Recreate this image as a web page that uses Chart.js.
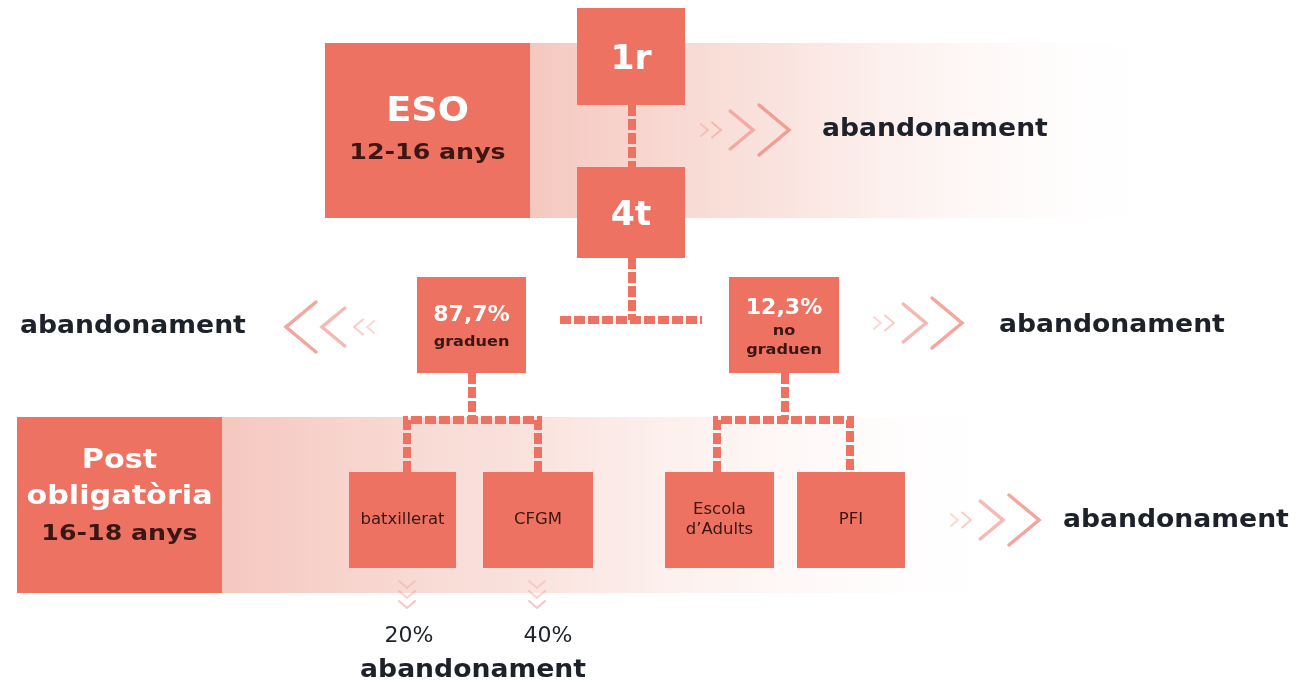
<!DOCTYPE html>
<html>
<head>
<meta charset="utf-8">
<script src="https://cdn.jsdelivr.net/npm/chart.js@4.4.0/dist/chart.umd.min.js"></script>
<style>
  html, body { margin: 0; padding: 0; background: #ffffff; }
  #wrap { width: 1304px; height: 683px; position: relative; }
</style>
</head>
<body>
<div id="wrap"><canvas id="flowChart"></canvas></div>
<script>
// --- diagram content ---
const stageNames = ['ESO', 'Post\nobligatòria'];
const stageAges = ['12-16 anys', '16-18 anys'];
const courseNames = ['1r', '4t'];
const outcomeNames = ['graduen', 'no\ngraduen'];
const outcomeShares = [87.7, 12.3];
const pathNames = ['batxillerat', 'CFGM', 'Escola\nd\u2019Adults', 'PFI'];
const pathDropout = [20, 40];
const dropoutLabel = 'abandonament';

// --- layout in diagram units (x 0..1304, y 0..683 downwards) ---
const layout = {
    stageBoxes: [[325, 43, 530, 218], [17, 417, 222, 593]],
    bands: [[530, 43, 1180, 218], [222, 417, 1040, 593]],
    courseBoxes: [[577, 8, 685, 105], [577, 167, 685, 258]],
    outcomeBoxes: [[417, 277, 526, 373], [729, 277, 839, 373]],
    pathBoxes: [[349, 472, 456, 568], [483, 472, 593, 568], [665, 472, 774, 568], [797, 472, 905, 568]],
    connectors: [
        [[632, 105], [632, 167]],
        [[632, 258], [632, 320]],
        [[560, 320], [702, 320]],
        [[472, 373], [472, 420]],
        [[407, 472], [407, 420], [538, 420], [538, 472]],
        [[785, 373], [785, 420]],
        [[717, 472], [717, 420], [850, 420], [850, 472]]
    ],
    chevronsRight: [[697, 130], [870, 323], [947, 520]],
    chevronsLeft: [[378, 327]],
    chevronsDown: [[407, 577], [537, 577]],
    dropoutText: [[822, 130, 'left'], [20, 327, 'left'], [999, 326, 'left'], [1063, 521, 'left']],
    dropoutPct: [[409, 636], [548, 636]],
    dropoutBottom: [473, 671]
};

const boxColor = '#ee7262';
const darkText = '#3a1712';
const outerText = '#1d2129';
const FONT = '"DejaVu Sans", sans-serif';

function fmtPct(v) {
    return String(v).replace('.', ',') + '%';
}

const connectorSets = layout.connectors.map(pts => ({
    data: pts.map(p => ({ x: p[0], y: p[1] })),
    showLine: true,
    borderColor: boxColor,
    borderWidth: 8,
    borderDash: [11, 3],
    borderCapStyle: 'butt',
    borderJoinStyle: 'miter',
    pointRadius: 0,
    fill: false,
    tension: 0
}));

const diagramPlugin = {
    id: 'diagram',
    beforeDatasetsDraw(chart) {
        const ctx = chart.ctx;
        const X = v => chart.scales.x.getPixelForValue(v);
        const Y = v => chart.scales.y.getPixelForValue(v);
        // light bands behind stage rows
        layout.bands.forEach(b => {
            const g = ctx.createLinearGradient(X(b[0]), 0, X(b[2]), 0);
            g.addColorStop(0, 'rgba(243,190,180,0.85)');
            g.addColorStop(0.4, 'rgba(247,210,202,0.6)');
            g.addColorStop(1, 'rgba(255,255,255,0)');
            ctx.fillStyle = g;
            ctx.fillRect(X(b[0]), Y(b[1]), X(b[2]) - X(b[0]), Y(b[3]) - Y(b[1]));
        });
    },
    afterDatasetsDraw(chart) {
        const ctx = chart.ctx;
        const X = v => chart.scales.x.getPixelForValue(v);
        const Y = v => chart.scales.y.getPixelForValue(v);

        function box(b) {
            ctx.fillStyle = boxColor;
            ctx.fillRect(X(b[0]), Y(b[1]), X(b[2]) - X(b[0]), Y(b[3]) - Y(b[1]));
        }
        // the original lettering is a wide geometric face, so stretch glyphs horizontally
        function text(str, x, y, size, color, weight, align, stretch) {
            ctx.save();
            ctx.font = (weight || 'bold') + ' ' + size + 'px ' + FONT;
            ctx.fillStyle = color;
            ctx.textAlign = align || 'center';
            ctx.textBaseline = 'middle';
            ctx.translate(X(x), Y(y));
            ctx.scale(stretch || 1, 1);
            ctx.fillText(str, 0, 0);
            ctx.restore();
        }
        function chevron(tipX, cy, h, dir, alpha, lw) {
            const w = h * 0.6 * dir;
            ctx.strokeStyle = 'rgba(236,128,116,' + alpha + ')';
            ctx.lineWidth = lw;
            ctx.lineCap = 'round';
            ctx.lineJoin = 'miter';
            ctx.beginPath();
            ctx.moveTo(X(tipX - w), Y(cy - h / 2));
            ctx.lineTo(X(tipX), Y(cy));
            ctx.lineTo(X(tipX - w), Y(cy + h / 2));
            ctx.stroke();
        }
        function chevronGroup(x0, cy, dir) {
            // two faint small ones, then two bigger ones
            const parts = [[11, 12, 0.3, 2], [24, 15, 0.4, 2], [56, 38, 0.55, 3.5], [92, 50, 0.7, 3.5]];
            parts.forEach(p => chevron(x0 + p[0] * dir, cy, p[1], dir, p[2], p[3]));
        }
        function downChevrons(cx, y0) {
            [[4, 0.25], [14, 0.35], [24, 0.45]].forEach(p => {
                ctx.strokeStyle = 'rgba(236,128,116,' + p[1] + ')';
                ctx.lineWidth = 2;
                ctx.beginPath();
                ctx.moveTo(X(cx - 8), Y(y0 + p[0]));
                ctx.lineTo(X(cx), Y(y0 + p[0] + 7));
                ctx.lineTo(X(cx + 8), Y(y0 + p[0]));
                ctx.stroke();
            });
        }

        // stage boxes
        layout.stageBoxes.forEach(box);
        const eso = layout.stageBoxes[0];
        const ecx = (eso[0] + eso[2]) / 2;
        text(stageNames[0], ecx, 112, 34, '#ffffff', 'bold', 'center', 1.08);
        text(stageAges[0], ecx, 153, 22, darkText, 'bold', 'center', 1.15);
        const post = layout.stageBoxes[1];
        const pcx = (post[0] + post[2]) / 2;
        stageNames[1].split('\n').forEach((ln, i) => text(ln, pcx, 461 + i * 36, 27, '#ffffff', 'bold', 'center', 1.12));
        text(stageAges[1], pcx, 534, 22, darkText, 'bold', 'center', 1.15);

        // course boxes
        layout.courseBoxes.forEach((b, i) => {
            box(b);
            text(courseNames[i], (b[0] + b[2]) / 2, i === 0 ? 60 : 216, 33, '#ffffff', 'bold', 'center', 1.05);
        });

        // outcome boxes
        layout.outcomeBoxes.forEach((b, i) => {
            box(b);
            const cx = (b[0] + b[2]) / 2;
            const lines = outcomeNames[i].split('\n');
            text(fmtPct(outcomeShares[i]), cx, lines.length === 1 ? 316 : 309, 21, '#ffffff', 'bold', 'center', 1.05);
            lines.forEach((ln, j) => {
                const y = lines.length === 1 ? 342 : 331 + j * 19;
                text(ln, cx, y, 14, darkText, 'bold', 'center', 1.15);
            });
        });

        // path boxes
        layout.pathBoxes.forEach((b, i) => {
            box(b);
            const cx = (b[0] + b[2]) / 2;
            const lines = pathNames[i].split('\n');
            lines.forEach((ln, j) => {
                const y = 520 + (j - (lines.length - 1) / 2) * 20;
                text(ln, cx, y, 15, darkText, 'normal', 'center', 1.1);
            });
        });

        // chevrons
        layout.chevronsRight.forEach(c => chevronGroup(c[0], c[1], 1));
        layout.chevronsLeft.forEach(c => chevronGroup(c[0], c[1], -1));
        layout.chevronsDown.forEach(c => downChevrons(c[0], c[1]));

        // dropout labels
        layout.dropoutText.forEach(t => text(dropoutLabel, t[0], t[1], 24, outerText, 'bold', t[2], 1.11));
        layout.dropoutPct.forEach((p, i) => text(pathDropout[i] + '%', p[0], p[1], 22, outerText, 'normal'));
        text(dropoutLabel, layout.dropoutBottom[0], layout.dropoutBottom[1], 24, outerText, 'bold', 'center', 1.11);
    }
};

const chart = new Chart(document.getElementById('flowChart').getContext('2d'), {
    type: 'scatter',
    data: { datasets: connectorSets },
    options: {
        responsive: true,
        maintainAspectRatio: false,
        animation: false,
        layout: { padding: 0 },
        scales: {
            x: { type: 'linear', min: 0, max: 1304, display: false },
            y: { type: 'linear', min: 0, max: 683, reverse: true, display: false }
        },
        plugins: {
            legend: { display: false },
            tooltip: { enabled: false }
        }
    },
    plugins: [diagramPlugin]
});
</script>
</body>
</html>
